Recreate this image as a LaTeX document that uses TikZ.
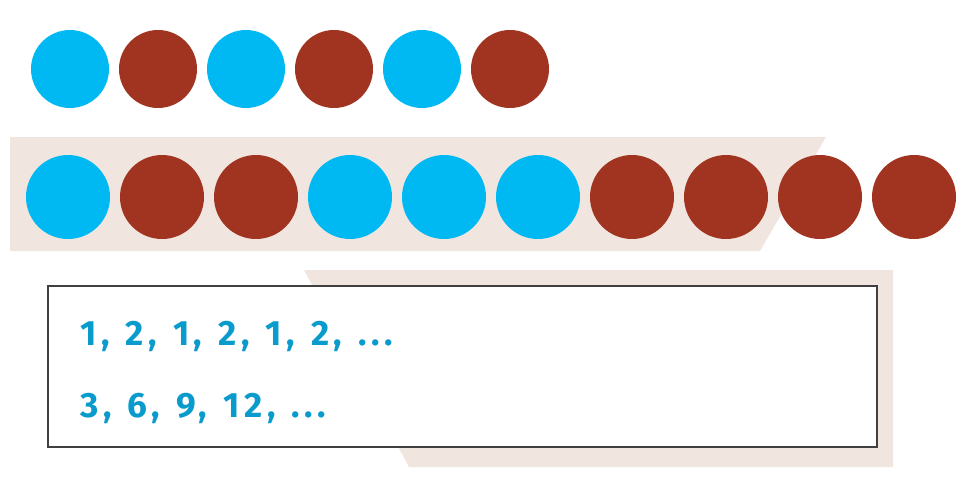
\documentclass[tikz,border=0pt]{standalone}
\usepackage{fontspec}
\newfontfamily\seqfont[LetterSpace=13,WordSpace=1.25]{Fira Sans}
\definecolor{beadblue}{RGB}{0,185,242}
\definecolor{beadred}{RGB}{160,52,32}
\definecolor{bandtan}{RGB}{241,229,223}
\definecolor{seqblue}{RGB}{10,155,205}
\tikzset{
  bead/.style={circle,inner sep=0pt,minimum size=#1*0.025cm},
  bluebead/.style={bead=78,fill=beadblue},
  redbead/.style={bead=78,fill=beadred},
  seq/.style={anchor=base west,inner sep=0pt,text=seqblue,font=\seqfont\bfseries\fontsize{25}{30}\selectfont}
}
\begin{document}
\begin{tikzpicture}[x=0.025cm,y=-0.025cm]
\useasboundingbox (0,0) rectangle (972,480);
% bands behind
\fill[bandtan] (10,137)--(826,137)--(760,251)--(10,251)--cycle;
\fill[bandtan] (304,270)--(893,270)--(893,467)--(409,467)--cycle;
% top row: two colours alternating
\foreach \i/\c in {0/bluebead,1/redbead,2/bluebead,3/redbead,4/bluebead,5/redbead}
  \node[\c] (t\i) at (70+88*\i,69) {};
% second row
\foreach \i/\c in {0/bluebead,1/redbead,2/redbead,3/bluebead,4/bluebead,5/bluebead,6/redbead,7/redbead,8/redbead,9/redbead}
  \node[\c,bead=84] (b\i) at (68+94*\i,197) {};
% box with the sequences
\draw[fill=white,draw=black!75,line width=0.8pt] (48,286) rectangle (877,447);
\node[seq] (s1) at (80,345) {1, 2, 1, 2, 1, 2, ...};
\node[seq] (s2) at (80,417) {3, 6, 9, 12, ...};
\end{tikzpicture}
\end{document}
